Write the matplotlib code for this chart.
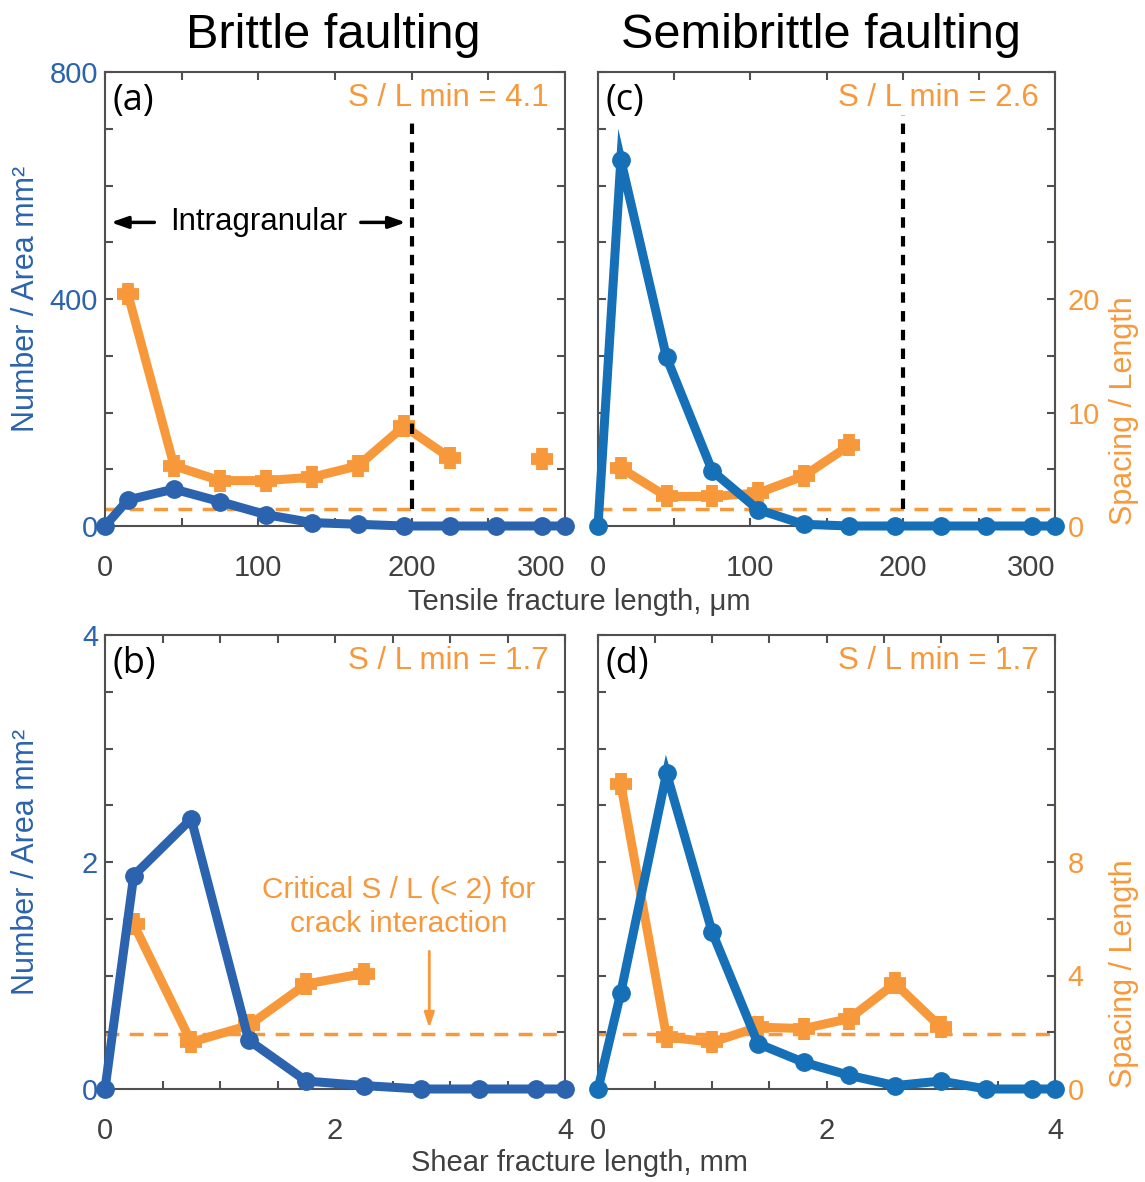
import numpy as np
import matplotlib
matplotlib.use("Agg")
import matplotlib.pyplot as plt

plt.rcParams['font.family'] = ['Liberation Sans', 'DejaVu Sans']

# ---------------- data ----------------
tensile_x = [0, 15, 45, 75, 105, 135, 165, 195, 225, 255, 285, 300]
tensile_bins = [15, 45, 75, 105, 135, 165, 195, 225, 255, 285]
brittle_tensile_density = [0, 46, 65, 43, 20, 6, 3, 0, 0, 0, 0, 0]
brittle_tensile_spacing = [20.4, 5.3, 4.0, 4.0, 4.3, 5.3, 8.8, 6.0, np.nan, 5.9]
semi_tensile_density = [0, 645, 297, 97, 29, 3, 0, 0, 0, 0, 0, 0]
semi_tensile_spacing = [5.1, 2.6, 2.6, 2.9, 4.4, 7.1, np.nan, np.nan, np.nan, np.nan]

brittle_shear_x = [0, 0.25, 0.75, 1.25, 1.75, 2.25, 2.75, 3.25, 3.75, 4.0]
brittle_shear_bins = [0.25, 0.75, 1.25, 1.75, 2.25]
brittle_shear_density = [0, 1.88, 2.38, 0.43, 0.07, 0.03, 0, 0, 0, 0]
brittle_shear_spacing = [5.8, 1.65, 2.24, 3.7, 4.07]

semi_shear_x = [0, 0.2, 0.6, 1.0, 1.4, 1.8, 2.2, 2.6, 3.0, 3.4, 3.8, 4.0]
semi_shear_bins = [0.2, 0.6, 1.0, 1.4, 1.8, 2.2, 2.6, 3.0]
semi_shear_density = [0, 0.85, 2.78, 1.38, 0.40, 0.235, 0.12, 0.03, 0.07, 0, 0, 0]
semi_shear_spacing = [10.74, 1.83, 1.65, 2.18, 2.13, 2.48, 3.72, 2.18]

sl_min_labels = ['S / L min = 4.1', 'S / L min = 2.6', 'S / L min = 1.7', 'S / L min = 1.7']
critical_tensile = 1.5
critical_shear = 1.95
intragranular_limit = 200

# ---------------- style ----------------
BLUE_A = '#2B63AE'
BLUE = '#1670B8'
ORANGE = '#F7993B'
GRAY = '#505050'
TXT = '#404040'

W, H = 1145, 1182
fig = plt.figure(figsize=(W / 100, H / 100), dpi=100)


def fx(px):
    return px / W


def fy(py):
    return 1 - py / H


pos = {
    'a': [fx(105), fy(526), fx(565) - fx(105), (526 - 72) / H],
    'c': [fx(598), fy(526), fx(1055) - fx(598), (526 - 72) / H],
    'b': [fx(105), fy(1089), fx(565) - fx(105), (1089 - 635) / H],
    'd': [fx(598), fy(1089), fx(1055) - fx(598), (1089 - 635) / H],
}


def panel(key, x, dens, bins, spac, blue, xlim, xticks, xminor, ylim, yticks, ylabels,
          y2lim, crit, slmin, show_left, show_right, spine_top):
    ax = fig.add_axes(pos[key])
    ax2 = ax.twinx()
    ax.set_zorder(2)
    ax2.set_zorder(1)
    ax.patch.set_visible(False)

    # orange dashed critical line + spacing series on right axis
    ax2.axhline(crit, color=ORANGE, lw=2.5, dashes=(4, 3), zorder=1)
    ax2.plot(bins, spac, color=ORANGE, lw=6.5, marker='+', ms=16, mew=8.5,
             solid_joinstyle='miter', clip_on=False, zorder=3)
    ax2.set_ylim(*y2lim)
    ax2.set_xlim(*xlim)

    # blue density series on left axis
    ax.plot(x, dens, color=blue, lw=6.5, marker='o', ms=12.5,
            solid_joinstyle='miter', clip_on=False, zorder=4)
    ax.set_xlim(*xlim)
    ax.set_ylim(*ylim)

    ax.set_xticks(xminor)
    ax.set_xticklabels([('%g' % v) if v in xticks else '' for v in xminor])
    ax.set_yticks(yticks)
    ax.set_yticklabels(ylabels if show_left else [''] * len(yticks))
    ax.tick_params(axis='both', direction='in', length=6, width=1.5, color=GRAY,
                   top=True, right=True, labelsize=21)
    ax.tick_params(axis='x', pad=20, labelcolor=TXT)
    ax.tick_params(axis='y', pad=5, labelcolor=BLUE_A if key in 'ab' else BLUE)
    for lab in ax.get_xticklabels():
        if lab.get_text() == '300':
            lab.set_ha('right')
    for s in ax.spines.values():
        s.set_color(GRAY)
        s.set_linewidth(1.5)

    for s in ['left', 'top', 'bottom']:
        ax2.spines[s].set_visible(False)
    if show_right:
        ax2.spines['right'].set_color(ORANGE)
        ax2.spines['right'].set_linewidth(1.5)
        ax2.spines['right'].set_bounds(0, spine_top)
        ax2.tick_params(axis='y', length=0, pad=9, labelsize=21, labelcolor=ORANGE)
        ax2.set_ylabel('Spacing / Length', color=ORANGE, fontsize=22)
        ax2.yaxis.set_label_coords(1.118, 0.255)
    else:
        ax2.spines['right'].set_visible(False)
        ax2.set_yticks([])

    if show_left:
        ax.set_ylabel('Number / Area mm²', color=BLUE_A if key in 'ab' else BLUE, fontsize=22)
        ax.yaxis.set_label_coords(-0.14, 0.5)

    ax.text(0.017, 0.936, '(%s)' % key, transform=ax.transAxes, fontsize=26,
            family='Open Sans', ha='left', va='center', color='black')
    ax.text(0.965, 0.943, slmin, transform=ax.transAxes, fontsize=22.5,
            ha='right', va='center', color=ORANGE)
    return ax, ax2


t_minor = list(range(0, 301, 50))
s_minor = [0, 0.5, 1, 1.5, 2, 2.5, 3, 3.5, 4]

axA, axA2 = panel('a', tensile_x, brittle_tensile_density, tensile_bins, brittle_tensile_spacing,
                  BLUE_A, (0, 300), [0, 100, 200, 300], t_minor, (0, 800),
                  list(range(0, 801, 100)), ['0', '', '', '', '400', '', '', '', '800'],
                  (0, 40), critical_tensile, sl_min_labels[0], True, False, 25)
axC, axC2 = panel('c', tensile_x, semi_tensile_density, tensile_bins, semi_tensile_spacing,
                  BLUE, (0, 300), [0, 100, 200, 300], t_minor, (0, 800),
                  list(range(0, 801, 100)), [''] * 9,
                  (0, 40), critical_tensile, sl_min_labels[1], False, True, 25)
axC2.set_yticks([0, 10, 20])
axB, axB2 = panel('b', brittle_shear_x, brittle_shear_density, brittle_shear_bins, brittle_shear_spacing,
                  BLUE_A, (0, 4), [0, 2, 4], s_minor, (0, 4),
                  s_minor, ['0', '', '', '', '2', '', '', '', '4'],
                  (0, 16), critical_shear, sl_min_labels[2], True, False, 10)
axD, axD2 = panel('d', semi_shear_x, semi_shear_density, semi_shear_bins, semi_shear_spacing,
                  BLUE, (0, 4), [0, 2, 4], s_minor, (0, 4),
                  s_minor, [''] * 9,
                  (0, 16), critical_shear, sl_min_labels[3], False, True, 10)
axD2.set_yticks([0, 4, 8])

# vertical intragranular limit lines (left-axis units)
for ax, top in [(axA, 712), (axC, 724)]:
    ax.plot([intragranular_limit, intragranular_limit], [critical_tensile * 20, top],
            color='black', lw=3, dashes=(2.5, 2), zorder=5)

# Intragranular annotation
axA.text(100, 535, 'Intragranular', ha='center', va='center', fontsize=22.5, color='black')
axA.annotate('', xy=(2, 535), xytext=(34, 535),
             arrowprops=dict(arrowstyle='-|>,head_length=1.0,head_width=0.35', color='black', lw=2.5))
axA.annotate('', xy=(198, 535), xytext=(165, 535),
             arrowprops=dict(arrowstyle='-|>,head_length=1.0,head_width=0.35', color='black', lw=2.5))

# Critical S/L annotation
axB2.text(2.55, 6.4, 'Critical S / L (< 2) for\ncrack interaction', ha='center', va='center',
          fontsize=21.5, color=ORANGE, linespacing=1.27)
axB2.annotate('', xy=(2.82, 2.05), xytext=(2.82, 4.95),
              arrowprops=dict(arrowstyle='-|>,head_length=0.9,head_width=0.3', color=ORANGE, lw=2))

# titles and x labels
fig.text(fx(333), fy(36), 'Brittle faulting', ha='center', va='center', fontsize=35)
fig.text(fx(821), fy(36), 'Semibrittle faulting', ha='center', va='center', fontsize=35)
fig.text(fx(579), fy(602), 'Tensile fracture length, μm', ha='center', va='center',
         fontsize=21, color=TXT)
fig.text(fx(579), fy(1163), 'Shear fracture length, mm', ha='center', va='center',
         fontsize=21, color=TXT)

fig.savefig('out.png', dpi=100)
